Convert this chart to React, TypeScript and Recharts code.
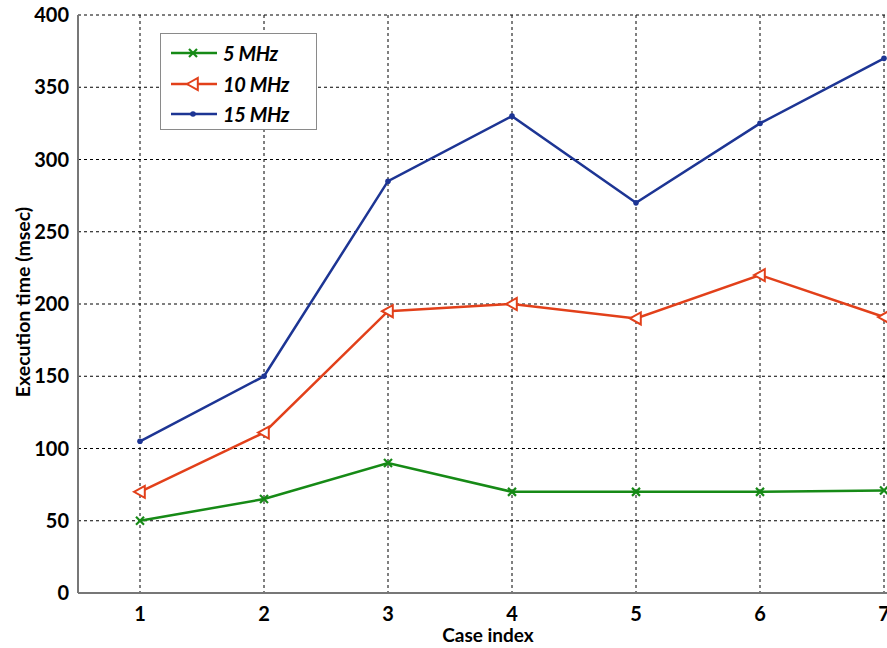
import React from "react";
import {
    LineChart,
    Line,
    XAxis,
    YAxis,
    CartesianGrid,
} from "recharts";

const caseIndex = [1, 2, 3, 4, 5, 6, 7];
const mhz5 = [50, 65, 90, 70, 70, 70, 71];
const mhz10 = [70, 111, 195, 200, 190, 220, 191];
const mhz15 = [105, 150, 285, 330, 270, 325, 370];
const yTicks = [0, 50, 100, 150, 200, 250, 300, 350, 400];

const GREEN = "#168a16";
const RED = "#e2401a";
const BLUE = "#1d3594";
const FONT = "Lato, 'Liberation Sans', sans-serif";

const data = caseIndex.map((c, i) => ({
    idx: c,
    m5: mhz5[i],
    m10: mhz10[i],
    m15: mhz15[i],
}));

const series = [
    { key: "m5", name: "5 MHz", color: GREEN, marker: "cross" },
    { key: "m10", name: "10 MHz", color: RED, marker: "triangle" },
    { key: "m15", name: "15 MHz", color: BLUE, marker: "dot" },
];

function Marker({ cx, cy, kind, color }: any) {
    if (cx == null || cy == null) return null;
    if (kind === "cross") {
        const s = 4;
        return (
            <g stroke={color} strokeWidth={2.2}>
                <line x1={cx - s} y1={cy - s} x2={cx + s} y2={cy + s} />
                <line x1={cx - s} y1={cy + s} x2={cx + s} y2={cy - s} />
            </g>
        );
    }
    if (kind === "triangle") {
        const s = 6;
        return (
            <polygon
                points={`${cx - s},${cy} ${cx + s * 0.8},${cy - s} ${cx + s * 0.8},${cy + s}`}
                fill="#fff"
                stroke={color}
                strokeWidth={2}
            />
        );
    }
    return <circle cx={cx} cy={cy} r={2.8} fill={color} stroke="none" />;
}

// rotated y-axis title
function YTitle() {
    const cx = 22;
    const cy = 302;
    return (
        <text
            x={cx}
            y={cy}
            transform={`rotate(-90 ${cx} ${cy})`}
            textAnchor="middle"
            dominantBaseline="central"
            fill="#000"
            fontFamily={FONT}
            fontWeight="bold"
            fontSize={19.5}
        >
            Execution time (msec)
        </text>
    );
}

// legend box drawn over the plot, top-left
function LegendBox() {
    return (
        <div
            style={{
                position: "absolute",
                left: 160,
                top: 33,
                width: 157,
                height: 97,
                border: "1.5px solid #8a8a8a",
                background: "#fff",
                boxSizing: "border-box",
                paddingTop: 4,
            }}
        >
            {series.map((s) => (
                <div key={s.key} style={{ display: "flex", alignItems: "center", height: 30.5 }}>
                    <svg width={58} height={20} style={{ marginLeft: 8 }}>
                        <line x1={2} y1={10} x2={48} y2={10} stroke={s.color} strokeWidth={2.5} />
                        <Marker cx={24} cy={10} kind={s.marker} color={s.color} />
                    </svg>
                    <span
                        style={{
                            fontFamily: FONT,
                            fontStyle: "italic",
                            fontWeight: "bold",
                            fontSize: 20,
                            color: "#000",
                            marginLeft: -4,
                            letterSpacing: -0.3,
                        }}
                    >
                        {s.name}
                    </span>
                </div>
            ))}
        </div>
    );
}

export default function App() {
    return (
        <div
            style={{
                position: "absolute",
                left: 0,
                top: 0,
                width: 887,
                height: 648,
                overflow: "hidden",
                background: "#fff",
            }}
        >
            <LineChart
                width={946}
                height={648}
                data={data}
                margin={{ top: 15, right: 0, bottom: 0, left: 0 }}
            >
                <CartesianGrid stroke="#000" strokeDasharray="3 3" strokeWidth={1} />
                <XAxis
                    dataKey="idx"
                    type="number"
                    domain={[0.5, 7.5]}
                    ticks={caseIndex}
                    height={55}
                    stroke="#777"
                    strokeWidth={2}
                    tickLine={false}
                    tick={{ fill: "#000", fontFamily: FONT, fontWeight: "bold", fontSize: 20 }}
                    tickMargin={8}
                    label={{
                        value: "Case index",
                        position: "insideBottom",
                        offset: 6,
                        dx: -24,
                        fill: "#000",
                        fontFamily: FONT,
                        fontWeight: "bold",
                        fontSize: 19,
                    }}
                />
                <YAxis
                    type="number"
                    domain={[0, 400]}
                    ticks={yTicks}
                    width={78}
                    stroke="#777"
                    strokeWidth={2}
                    tickLine={false}
                    tick={{ fill: "#000", fontFamily: FONT, fontWeight: "bold", fontSize: 20 }}
                    tickMargin={3}
                    label={{ content: () => <YTitle /> }}
                />
                {series.map((s) => (
                    <Line
                        key={s.key}
                        dataKey={s.key}
                        name={s.name}
                        type="linear"
                        stroke={s.color}
                        strokeWidth={2.5}
                        isAnimationActive={false}
                        dot={(p: any) => (
                            <Marker key={`${s.key}-${p.index}`} cx={p.cx} cy={p.cy} kind={s.marker} color={s.color} />
                        )}
                        activeDot={false}
                    />
                ))}
            </LineChart>
            <LegendBox />
        </div>
    );
}
